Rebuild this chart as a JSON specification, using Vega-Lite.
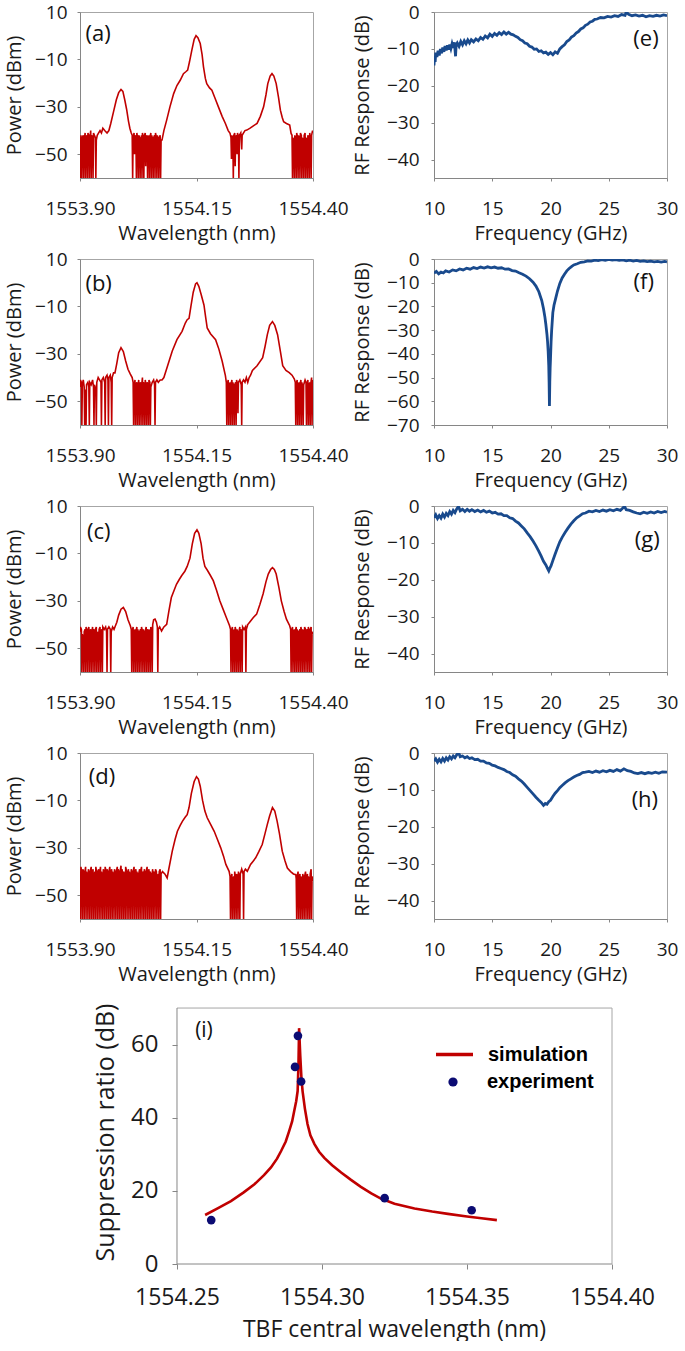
{
"$schema": "https://vega.github.io/schema/vega-lite/v6.json",
"padding": {"left": 3, "top": 2, "right": 0, "bottom": 0},
"background": "white",
"bounds": "flush",
"align": "none",
"columns": 2,
"spacing": {"row": 81, "column": 121},
"config": {
 "font": "Open Sans",
 "view": {"stroke": "#a6a6a6"},
 "axis": {"grid": false, "domainColor": "#868686", "tickColor": "#868686", "tickSize": 3, "labelFont": "Open Sans", "labelFontSize": 19, "labelColor": "#1a1a1a", "titleFont": "Open Sans", "titleFontSize": 20, "titleFontWeight": "normal", "titleColor": "#1a1a1a", "labelOverlap": false},
 "axisX": {"labelPadding": 18, "titlePadding": 5, "labelFlush": false},
 "axisY": {"labelPadding": 10, "titlePadding": 10}
},
"datasets": {
"a": [{"x":1553.900,"y":-43},{"x":1553.901,"y":-60},{"x":1553.902,"y":-42},{"x":1553.903,"y":-45},{"x":1553.904,"y":-60},{"x":1553.905,"y":-43},{"x":1553.907,"y":-42},{"x":1553.908,"y":-60},{"x":1553.909,"y":-44},{"x":1553.911,"y":-41},{"x":1553.912,"y":-60},{"x":1553.913,"y":-43},{"x":1553.915,"y":-42},{"x":1553.916,"y":-60},{"x":1553.917,"y":-41},{"x":1553.919,"y":-42},{"x":1553.920,"y":-60},{"x":1553.921,"y":-44},{"x":1553.923,"y":-40},{"x":1553.924,"y":-60},{"x":1553.925,"y":-42},{"x":1553.927,"y":-43},{"x":1553.928,"y":-60},{"x":1553.929,"y":-41},{"x":1553.931,"y":-42},{"x":1553.933,"y":-43},{"x":1553.934,"y":-60},{"x":1553.935,"y":-44},{"x":1553.937,"y":-42},{"x":1553.940,"y":-41},{"x":1553.943,"y":-40},{"x":1553.946,"y":-41},{"x":1553.949,"y":-39},{"x":1553.953,"y":-40},{"x":1553.958,"y":-41},{"x":1553.962,"y":-40},{"x":1553.966,"y":-37},{"x":1553.972,"y":-32},{"x":1553.978,"y":-27},{"x":1553.983,"y":-24},{"x":1553.988,"y":-22.7},{"x":1553.992,"y":-23.5},{"x":1553.996,"y":-27},{"x":1554.000,"y":-31},{"x":1554.004,"y":-36},{"x":1554.007,"y":-39},{"x":1554.010,"y":-41},
{"x":1554.012,"y":-42},{"x":1554.013,"y":-60},{"x":1554.014,"y":-43},{"x":1554.016,"y":-41},{"x":1554.017,"y":-50},{"x":1554.018,"y":-42},{"x":1554.020,"y":-43},{"x":1554.021,"y":-60},{"x":1554.022,"y":-41},{"x":1554.024,"y":-44},{"x":1554.025,"y":-60},{"x":1554.026,"y":-42},{"x":1554.028,"y":-43},{"x":1554.029,"y":-60},{"x":1554.030,"y":-45},{"x":1554.032,"y":-42},{"x":1554.033,"y":-60},{"x":1554.034,"y":-41},{"x":1554.036,"y":-44},{"x":1554.037,"y":-60},{"x":1554.038,"y":-42},{"x":1554.040,"y":-41},{"x":1554.041,"y":-55},{"x":1554.042,"y":-43},{"x":1554.044,"y":-42},{"x":1554.045,"y":-60},{"x":1554.046,"y":-44},{"x":1554.048,"y":-42},{"x":1554.049,"y":-60},{"x":1554.050,"y":-43},{"x":1554.052,"y":-41},{"x":1554.053,"y":-60},{"x":1554.054,"y":-42},{"x":1554.056,"y":-44},{"x":1554.057,"y":-60},{"x":1554.058,"y":-43},{"x":1554.060,"y":-42},{"x":1554.061,"y":-60},{"x":1554.062,"y":-41},{"x":1554.064,"y":-43},{"x":1554.065,"y":-60},{"x":1554.066,"y":-42},{"x":1554.068,"y":-44},{"x":1554.069,"y":-60},{"x":1554.070,"y":-43},{"x":1554.072,"y":-42},{"x":1554.073,"y":-60},{"x":1554.074,"y":-44},{"x":1554.076,"y":-44},
{"x":1554.080,"y":-40},{"x":1554.086,"y":-35.6},{"x":1554.093,"y":-30},{"x":1554.101,"y":-24.4},{"x":1554.108,"y":-21},{"x":1554.115,"y":-18.8},{"x":1554.122,"y":-16},{"x":1554.127,"y":-15.2},{"x":1554.131,"y":-14.5},{"x":1554.135,"y":-11},{"x":1554.140,"y":-6.1},{"x":1554.145,"y":-1.5},{"x":1554.149,"y":0},{"x":1554.153,"y":-0.8},{"x":1554.158,"y":-3.3},{"x":1554.162,"y":-8},{"x":1554.165,"y":-13.1},{"x":1554.169,"y":-18},{"x":1554.172,"y":-20.2},{"x":1554.178,"y":-22},{"x":1554.183,"y":-23},{"x":1554.190,"y":-26.5},{"x":1554.197,"y":-30},{"x":1554.205,"y":-34},{"x":1554.212,"y":-37},{"x":1554.218,"y":-40},{"x":1554.222,"y":-41.2},
{"x":1554.224,"y":-43},{"x":1554.225,"y":-52},{"x":1554.226,"y":-42},{"x":1554.228,"y":-44},{"x":1554.229,"y":-60},{"x":1554.230,"y":-42},{"x":1554.232,"y":-41},{"x":1554.233,"y":-55},{"x":1554.234,"y":-43},{"x":1554.236,"y":-42},{"x":1554.237,"y":-50},{"x":1554.238,"y":-41},{"x":1554.240,"y":-43},{"x":1554.241,"y":-60},{"x":1554.242,"y":-42},{"x":1554.245,"y":-41},{"x":1554.247,"y":-48},{"x":1554.248,"y":-42},{"x":1554.251,"y":-41},{"x":1554.254,"y":-40},{"x":1554.258,"y":-39.8},
{"x":1554.265,"y":-39},{"x":1554.272,"y":-38},{"x":1554.280,"y":-37},{"x":1554.287,"y":-34},{"x":1554.294,"y":-30},{"x":1554.299,"y":-25},{"x":1554.303,"y":-20.2},{"x":1554.308,"y":-17},{"x":1554.312,"y":-16},{"x":1554.316,"y":-17},{"x":1554.321,"y":-20.2},{"x":1554.326,"y":-26},{"x":1554.330,"y":-31.4},{"x":1554.334,"y":-34.5},{"x":1554.337,"y":-36.3},{"x":1554.343,"y":-37},{"x":1554.350,"y":-37.7},{"x":1554.353,"y":-41.2},
{"x":1554.355,"y":-42},{"x":1554.356,"y":-60},{"x":1554.357,"y":-43},{"x":1554.359,"y":-45},{"x":1554.360,"y":-60},{"x":1554.361,"y":-42},{"x":1554.363,"y":-44},{"x":1554.364,"y":-60},{"x":1554.365,"y":-41},{"x":1554.367,"y":-43},{"x":1554.368,"y":-60},{"x":1554.369,"y":-42},{"x":1554.371,"y":-44},{"x":1554.372,"y":-60},{"x":1554.373,"y":-41},{"x":1554.375,"y":-42},{"x":1554.376,"y":-60},{"x":1554.377,"y":-43},{"x":1554.379,"y":-44},{"x":1554.380,"y":-60},{"x":1554.381,"y":-42},{"x":1554.383,"y":-41},{"x":1554.384,"y":-60},{"x":1554.385,"y":-43},{"x":1554.387,"y":-44},{"x":1554.388,"y":-60},{"x":1554.389,"y":-42},{"x":1554.391,"y":-43},{"x":1554.392,"y":-60},{"x":1554.393,"y":-41},{"x":1554.395,"y":-44},{"x":1554.396,"y":-60},{"x":1554.397,"y":-42},{"x":1554.399,"y":-40},{"x":1554.400,"y":-41}],
"b": [{"x":1553.900,"y":-44},{"x":1553.901,"y":-41},{"x":1553.903,"y":-42},{"x":1553.904,"y":-60},{"x":1553.905,"y":-43},{"x":1553.907,"y":-41},{"x":1553.909,"y":-44},{"x":1553.910,"y":-60},{"x":1553.911,"y":-45},{"x":1553.913,"y":-60},{"x":1553.914,"y":-43},{"x":1553.917,"y":-42},{"x":1553.919,"y":-44},{"x":1553.920,"y":-60},{"x":1553.921,"y":-42},{"x":1553.924,"y":-43},{"x":1553.927,"y":-41},{"x":1553.929,"y":-44},{"x":1553.930,"y":-60},{"x":1553.931,"y":-43},{"x":1553.934,"y":-45},{"x":1553.935,"y":-60},{"x":1553.936,"y":-42},{"x":1553.939,"y":-40},{"x":1553.942,"y":-41},{"x":1553.945,"y":-42},{"x":1553.946,"y":-60},{"x":1553.947,"y":-41},{"x":1553.950,"y":-40},{"x":1553.953,"y":-42},{"x":1553.954,"y":-60},{"x":1553.955,"y":-40},{"x":1553.958,"y":-39},{"x":1553.960,"y":-41},{"x":1553.961,"y":-60},{"x":1553.962,"y":-40},{"x":1553.965,"y":-39},{"x":1553.967,"y":-42},{"x":1553.968,"y":-60},{"x":1553.969,"y":-40},{"x":1553.972,"y":-38},{"x":1553.975,"y":-38},
{"x":1553.979,"y":-34},{"x":1553.983,"y":-29.5},{"x":1553.988,"y":-27.4},{"x":1553.993,"y":-29},{"x":1553.998,"y":-33},{"x":1554.003,"y":-36.5},{"x":1554.008,"y":-38.5},{"x":1554.012,"y":-40},
{"x":1554.014,"y":-42},{"x":1554.015,"y":-60},{"x":1554.016,"y":-44},{"x":1554.018,"y":-41},{"x":1554.019,"y":-60},{"x":1554.020,"y":-43},{"x":1554.022,"y":-42},{"x":1554.023,"y":-60},{"x":1554.024,"y":-45},{"x":1554.026,"y":-41},{"x":1554.027,"y":-60},{"x":1554.028,"y":-43},{"x":1554.030,"y":-42},{"x":1554.031,"y":-60},{"x":1554.032,"y":-44},{"x":1554.034,"y":-40},{"x":1554.035,"y":-60},{"x":1554.036,"y":-42},{"x":1554.038,"y":-43},{"x":1554.039,"y":-60},{"x":1554.040,"y":-41},{"x":1554.042,"y":-44},{"x":1554.043,"y":-60},{"x":1554.044,"y":-42},{"x":1554.046,"y":-43},{"x":1554.047,"y":-60},{"x":1554.048,"y":-41},{"x":1554.050,"y":-42},{"x":1554.051,"y":-60},{"x":1554.052,"y":-44},{"x":1554.055,"y":-42},{"x":1554.058,"y":-41},{"x":1554.060,"y":-43},{"x":1554.061,"y":-60},{"x":1554.062,"y":-42},{"x":1554.065,"y":-41},{"x":1554.068,"y":-42},{"x":1554.072,"y":-41},{"x":1554.076,"y":-41},
{"x":1554.080,"y":-40},{"x":1554.088,"y":-35},{"x":1554.098,"y":-28.8},{"x":1554.108,"y":-24},{"x":1554.119,"y":-20.5},{"x":1554.126,"y":-17},{"x":1554.130,"y":-15.6},{"x":1554.134,"y":-15},{"x":1554.138,"y":-10},{"x":1554.143,"y":-4},{"x":1554.148,"y":-0.5},{"x":1554.151,"y":0},{"x":1554.155,"y":-1.5},{"x":1554.160,"y":-5},{"x":1554.166,"y":-9.4},{"x":1554.170,"y":-15},{"x":1554.173,"y":-19.1},{"x":1554.180,"y":-21.5},{"x":1554.191,"y":-24},{"x":1554.198,"y":-28},{"x":1554.205,"y":-33},{"x":1554.212,"y":-39.2},
{"x":1554.214,"y":-42},{"x":1554.215,"y":-60},{"x":1554.216,"y":-43},{"x":1554.218,"y":-41},{"x":1554.219,"y":-60},{"x":1554.220,"y":-44},{"x":1554.222,"y":-42},{"x":1554.223,"y":-60},{"x":1554.224,"y":-43},{"x":1554.226,"y":-41},{"x":1554.227,"y":-60},{"x":1554.228,"y":-42},{"x":1554.230,"y":-44},{"x":1554.231,"y":-60},{"x":1554.232,"y":-43},{"x":1554.234,"y":-42},{"x":1554.235,"y":-60},{"x":1554.236,"y":-41},{"x":1554.238,"y":-43},{"x":1554.239,"y":-55},{"x":1554.240,"y":-42},{"x":1554.243,"y":-41},{"x":1554.246,"y":-43},{"x":1554.247,"y":-60},{"x":1554.248,"y":-42},{"x":1554.251,"y":-41},{"x":1554.254,"y":-42},{"x":1554.257,"y":-40},{"x":1554.260,"y":-42},{"x":1554.263,"y":-40},{"x":1554.266,"y":-39},{"x":1554.270,"y":-37},
{"x":1554.280,"y":-35},{"x":1554.292,"y":-31.6},{"x":1554.297,"y":-27},{"x":1554.302,"y":-21.9},{"x":1554.307,"y":-18},{"x":1554.313,"y":-16.4},{"x":1554.318,"y":-18},{"x":1554.324,"y":-21.9},{"x":1554.330,"y":-29},{"x":1554.335,"y":-35},{"x":1554.342,"y":-37},{"x":1554.349,"y":-37.9},{"x":1554.355,"y":-39},{"x":1554.360,"y":-40.6},
{"x":1554.362,"y":-42},{"x":1554.363,"y":-60},{"x":1554.364,"y":-43},{"x":1554.366,"y":-41},{"x":1554.367,"y":-60},{"x":1554.368,"y":-44},{"x":1554.370,"y":-42},{"x":1554.371,"y":-60},{"x":1554.372,"y":-43},{"x":1554.374,"y":-41},{"x":1554.375,"y":-60},{"x":1554.376,"y":-42},{"x":1554.378,"y":-44},{"x":1554.379,"y":-60},{"x":1554.380,"y":-43},{"x":1554.383,"y":-41},{"x":1554.385,"y":-42},{"x":1554.386,"y":-60},{"x":1554.387,"y":-43},{"x":1554.389,"y":-41},{"x":1554.390,"y":-60},{"x":1554.391,"y":-44},{"x":1554.393,"y":-42},{"x":1554.394,"y":-60},{"x":1554.395,"y":-43},{"x":1554.397,"y":-40},{"x":1554.398,"y":-60},{"x":1554.399,"y":-42},{"x":1554.400,"y":-41}],
"c": [{"x":1553.900,"y":-43},{"x":1553.901,"y":-41},{"x":1553.903,"y":-42},{"x":1553.904,"y":-60},{"x":1553.905,"y":-44},{"x":1553.907,"y":-46},{"x":1553.908,"y":-60},{"x":1553.909,"y":-43},{"x":1553.911,"y":-42},{"x":1553.912,"y":-60},{"x":1553.913,"y":-41},{"x":1553.915,"y":-44},{"x":1553.916,"y":-60},{"x":1553.917,"y":-42},{"x":1553.919,"y":-41},{"x":1553.920,"y":-60},{"x":1553.921,"y":-43},{"x":1553.923,"y":-42},{"x":1553.924,"y":-60},{"x":1553.925,"y":-44},{"x":1553.927,"y":-41},{"x":1553.928,"y":-60},{"x":1553.929,"y":-42},{"x":1553.931,"y":-43},{"x":1553.932,"y":-60},{"x":1553.933,"y":-42},{"x":1553.935,"y":-41},{"x":1553.936,"y":-60},{"x":1553.937,"y":-44},{"x":1553.939,"y":-43},{"x":1553.940,"y":-60},{"x":1553.941,"y":-42},{"x":1553.943,"y":-41},{"x":1553.944,"y":-60},{"x":1553.945,"y":-43},{"x":1553.947,"y":-42},{"x":1553.948,"y":-60},{"x":1553.949,"y":-41},{"x":1553.952,"y":-42},{"x":1553.955,"y":-41},{"x":1553.957,"y":-43},{"x":1553.958,"y":-60},{"x":1553.959,"y":-42},{"x":1553.962,"y":-41},{"x":1553.965,"y":-42},{"x":1553.966,"y":-60},{"x":1553.967,"y":-43},{"x":1553.970,"y":-41},{"x":1553.973,"y":-42},{"x":1553.975,"y":-41},
{"x":1553.979,"y":-39},{"x":1553.983,"y":-36},{"x":1553.988,"y":-33.5},{"x":1553.993,"y":-32.8},{"x":1553.998,"y":-34.5},{"x":1554.003,"y":-38},{"x":1554.008,"y":-40.5},
{"x":1554.010,"y":-42},{"x":1554.011,"y":-60},{"x":1554.012,"y":-43},{"x":1554.014,"y":-41},{"x":1554.015,"y":-60},{"x":1554.016,"y":-44},{"x":1554.018,"y":-42},{"x":1554.019,"y":-60},{"x":1554.020,"y":-43},{"x":1554.022,"y":-41},{"x":1554.023,"y":-60},{"x":1554.024,"y":-42},{"x":1554.026,"y":-44},{"x":1554.027,"y":-60},{"x":1554.028,"y":-43},{"x":1554.030,"y":-42},{"x":1554.031,"y":-60},{"x":1554.032,"y":-41},{"x":1554.034,"y":-43},{"x":1554.035,"y":-60},{"x":1554.036,"y":-42},{"x":1554.038,"y":-44},{"x":1554.039,"y":-60},{"x":1554.040,"y":-43},{"x":1554.042,"y":-41},{"x":1554.043,"y":-60},{"x":1554.044,"y":-42},{"x":1554.046,"y":-43},{"x":1554.047,"y":-60},{"x":1554.048,"y":-42},{"x":1554.050,"y":-44},{"x":1554.051,"y":-60},{"x":1554.052,"y":-41},{"x":1554.054,"y":-42},{"x":1554.055,"y":-60},{"x":1554.056,"y":-40},{"x":1554.058,"y":-38},{"x":1554.061,"y":-37.7},{"x":1554.064,"y":-39},{"x":1554.066,"y":-41},{"x":1554.067,"y":-60},{"x":1554.068,"y":-42},{"x":1554.071,"y":-41},{"x":1554.075,"y":-42.7},
{"x":1554.080,"y":-41},{"x":1554.086,"y":-39.9},{"x":1554.091,"y":-34},{"x":1554.096,"y":-28.6},{"x":1554.102,"y":-25.5},{"x":1554.107,"y":-23},{"x":1554.113,"y":-21},{"x":1554.118,"y":-19.4},{"x":1554.125,"y":-17.5},{"x":1554.130,"y":-15.5},{"x":1554.136,"y":-12},{"x":1554.141,"y":-6},{"x":1554.146,"y":-1.5},{"x":1554.151,"y":0},{"x":1554.155,"y":-1.5},{"x":1554.160,"y":-6},{"x":1554.164,"y":-12},{"x":1554.168,"y":-15.5},{"x":1554.173,"y":-17},{"x":1554.179,"y":-19},{"x":1554.186,"y":-21.5},{"x":1554.193,"y":-25.5},{"x":1554.200,"y":-30},{"x":1554.207,"y":-33.5},{"x":1554.214,"y":-37},{"x":1554.221,"y":-40.5},
{"x":1554.223,"y":-42},{"x":1554.224,"y":-60},{"x":1554.225,"y":-43},{"x":1554.227,"y":-41},{"x":1554.228,"y":-60},{"x":1554.229,"y":-44},{"x":1554.231,"y":-42},{"x":1554.232,"y":-60},{"x":1554.233,"y":-41},{"x":1554.235,"y":-43},{"x":1554.236,"y":-60},{"x":1554.237,"y":-42},{"x":1554.239,"y":-44},{"x":1554.240,"y":-60},{"x":1554.241,"y":-43},{"x":1554.243,"y":-41},{"x":1554.244,"y":-60},{"x":1554.245,"y":-42},{"x":1554.247,"y":-43},{"x":1554.248,"y":-60},{"x":1554.249,"y":-41},{"x":1554.252,"y":-42},{"x":1554.255,"y":-41},{"x":1554.256,"y":-60},{"x":1554.257,"y":-42},{"x":1554.260,"y":-40},{"x":1554.264,"y":-39},
{"x":1554.272,"y":-37},{"x":1554.279,"y":-35.6},{"x":1554.286,"y":-31.5},{"x":1554.293,"y":-27},{"x":1554.299,"y":-22},{"x":1554.304,"y":-18.7},{"x":1554.309,"y":-16.8},{"x":1554.313,"y":-16},{"x":1554.317,"y":-16.8},{"x":1554.321,"y":-18.7},{"x":1554.327,"y":-24.5},{"x":1554.332,"y":-30},{"x":1554.338,"y":-34.5},{"x":1554.343,"y":-37.7},{"x":1554.350,"y":-40.5},
{"x":1554.352,"y":-42},{"x":1554.353,"y":-60},{"x":1554.354,"y":-43},{"x":1554.356,"y":-41},{"x":1554.357,"y":-60},{"x":1554.358,"y":-44},{"x":1554.360,"y":-42},{"x":1554.361,"y":-60},{"x":1554.362,"y":-43},{"x":1554.364,"y":-41},{"x":1554.365,"y":-60},{"x":1554.366,"y":-42},{"x":1554.368,"y":-44},{"x":1554.369,"y":-60},{"x":1554.370,"y":-43},{"x":1554.372,"y":-42},{"x":1554.373,"y":-60},{"x":1554.374,"y":-41},{"x":1554.376,"y":-43},{"x":1554.377,"y":-60},{"x":1554.378,"y":-42},{"x":1554.380,"y":-44},{"x":1554.381,"y":-60},{"x":1554.382,"y":-41},{"x":1554.384,"y":-42},{"x":1554.385,"y":-60},{"x":1554.386,"y":-43},{"x":1554.388,"y":-42},{"x":1554.389,"y":-60},{"x":1554.390,"y":-41},{"x":1554.392,"y":-44},{"x":1554.393,"y":-60},{"x":1554.394,"y":-42},{"x":1554.396,"y":-41},{"x":1554.397,"y":-60},{"x":1554.398,"y":-43},{"x":1554.400,"y":-44}],
"d": [{"x":1553.900,"y":-40},{"x":1553.901,"y":-60},{"x":1553.902,"y":-38},{"x":1553.904,"y":-41},{"x":1553.905,"y":-60},{"x":1553.906,"y":-39},{"x":1553.908,"y":-40},{"x":1553.909,"y":-60},{"x":1553.910,"y":-41},{"x":1553.912,"y":-38},{"x":1553.913,"y":-60},{"x":1553.914,"y":-40},{"x":1553.916,"y":-42},{"x":1553.917,"y":-60},{"x":1553.918,"y":-39},{"x":1553.920,"y":-41},{"x":1553.921,"y":-60},{"x":1553.922,"y":-40},{"x":1553.924,"y":-38},{"x":1553.925,"y":-60},{"x":1553.926,"y":-41},{"x":1553.928,"y":-39},{"x":1553.929,"y":-60},{"x":1553.930,"y":-42},{"x":1553.932,"y":-40},{"x":1553.933,"y":-60},{"x":1553.934,"y":-38},{"x":1553.936,"y":-41},{"x":1553.937,"y":-60},{"x":1553.938,"y":-40},{"x":1553.940,"y":-39},{"x":1553.941,"y":-60},{"x":1553.942,"y":-41},{"x":1553.944,"y":-38},{"x":1553.945,"y":-60},{"x":1553.946,"y":-40},{"x":1553.948,"y":-42},{"x":1553.949,"y":-60},{"x":1553.950,"y":-39},{"x":1553.952,"y":-41},{"x":1553.953,"y":-60},{"x":1553.954,"y":-38},{"x":1553.956,"y":-40},{"x":1553.957,"y":-60},{"x":1553.958,"y":-39},{"x":1553.960,"y":-41},{"x":1553.961,"y":-60},{"x":1553.962,"y":-40},{"x":1553.964,"y":-38},{"x":1553.965,"y":-60},{"x":1553.966,"y":-41},{"x":1553.968,"y":-39},{"x":1553.969,"y":-60},{"x":1553.970,"y":-40},{"x":1553.972,"y":-42},{"x":1553.973,"y":-60},{"x":1553.974,"y":-39},{"x":1553.976,"y":-41},{"x":1553.977,"y":-60},{"x":1553.978,"y":-40},{"x":1553.980,"y":-38},{"x":1553.981,"y":-60},{"x":1553.982,"y":-39},{"x":1553.984,"y":-41},{"x":1553.985,"y":-60},{"x":1553.986,"y":-40},{"x":1553.988,"y":-37.5},{"x":1553.989,"y":-60},{"x":1553.990,"y":-39},{"x":1553.992,"y":-41},{"x":1553.993,"y":-60},{"x":1553.994,"y":-40},{"x":1553.996,"y":-42},{"x":1553.997,"y":-60},{"x":1553.998,"y":-38},{"x":1554.000,"y":-40},{"x":1554.001,"y":-60},{"x":1554.002,"y":-41},{"x":1554.004,"y":-39},{"x":1554.005,"y":-60},{"x":1554.006,"y":-40},{"x":1554.008,"y":-42},{"x":1554.009,"y":-60},{"x":1554.010,"y":-39},{"x":1554.012,"y":-41},{"x":1554.013,"y":-60},{"x":1554.014,"y":-40},{"x":1554.016,"y":-38},{"x":1554.017,"y":-60},{"x":1554.018,"y":-41},{"x":1554.020,"y":-39},{"x":1554.021,"y":-60},{"x":1554.022,"y":-40},{"x":1554.024,"y":-42},{"x":1554.025,"y":-60},{"x":1554.026,"y":-41},{"x":1554.028,"y":-39},{"x":1554.029,"y":-60},{"x":1554.030,"y":-40},{"x":1554.032,"y":-38},{"x":1554.033,"y":-60},{"x":1554.034,"y":-41},{"x":1554.036,"y":-40},{"x":1554.037,"y":-60},{"x":1554.038,"y":-39},{"x":1554.040,"y":-42},{"x":1554.041,"y":-60},{"x":1554.042,"y":-40},{"x":1554.044,"y":-38},{"x":1554.045,"y":-60},{"x":1554.046,"y":-41},{"x":1554.048,"y":-39},{"x":1554.049,"y":-60},{"x":1554.050,"y":-40},{"x":1554.052,"y":-41},{"x":1554.053,"y":-60},{"x":1554.054,"y":-42},{"x":1554.056,"y":-39},{"x":1554.057,"y":-60},{"x":1554.058,"y":-40},{"x":1554.060,"y":-41},{"x":1554.061,"y":-60},{"x":1554.062,"y":-39},{"x":1554.064,"y":-40},{"x":1554.065,"y":-60},{"x":1554.066,"y":-42},{"x":1554.068,"y":-41},{"x":1554.069,"y":-60},{"x":1554.070,"y":-40},{"x":1554.072,"y":-39},{"x":1554.073,"y":-60},{"x":1554.074,"y":-41},{"x":1554.077,"y":-40},
{"x":1554.082,"y":-41},{"x":1554.087,"y":-42.7},{"x":1554.091,"y":-38.5},{"x":1554.098,"y":-31.4},{"x":1554.104,"y":-26.5},{"x":1554.109,"y":-23},{"x":1554.115,"y":-20.5},{"x":1554.120,"y":-18.7},{"x":1554.126,"y":-17},{"x":1554.130,"y":-16},{"x":1554.134,"y":-13},{"x":1554.139,"y":-7},{"x":1554.145,"y":-2},{"x":1554.150,"y":0},{"x":1554.154,"y":-1},{"x":1554.158,"y":-4},{"x":1554.163,"y":-10},{"x":1554.168,"y":-14.5},{"x":1554.173,"y":-17.3},{"x":1554.180,"y":-20},{"x":1554.188,"y":-23},{"x":1554.195,"y":-26.5},{"x":1554.202,"y":-30},{"x":1554.208,"y":-33.5},{"x":1554.213,"y":-37},{"x":1554.220,"y":-39.9},
{"x":1554.222,"y":-42},{"x":1554.223,"y":-60},{"x":1554.224,"y":-43},{"x":1554.226,"y":-41},{"x":1554.227,"y":-60},{"x":1554.228,"y":-44},{"x":1554.230,"y":-42},{"x":1554.231,"y":-60},{"x":1554.232,"y":-40},{"x":1554.234,"y":-43},{"x":1554.235,"y":-60},{"x":1554.236,"y":-41},{"x":1554.238,"y":-42},{"x":1554.239,"y":-60},{"x":1554.240,"y":-40},{"x":1554.242,"y":-43},{"x":1554.243,"y":-60},{"x":1554.244,"y":-41},{"x":1554.247,"y":-39},{"x":1554.250,"y":-41},{"x":1554.251,"y":-60},{"x":1554.252,"y":-40},{"x":1554.255,"y":-39},{"x":1554.259,"y":-39.9},
{"x":1554.266,"y":-37},{"x":1554.272,"y":-35.5},{"x":1554.277,"y":-34.2},{"x":1554.284,"y":-31.5},{"x":1554.291,"y":-28.6},{"x":1554.297,"y":-24},{"x":1554.302,"y":-20.1},{"x":1554.307,"y":-16.5},{"x":1554.313,"y":-13},{"x":1554.318,"y":-14.5},{"x":1554.323,"y":-18.7},{"x":1554.328,"y":-24},{"x":1554.334,"y":-31.4},{"x":1554.340,"y":-35.5},{"x":1554.345,"y":-38.5},{"x":1554.352,"y":-40},{"x":1554.358,"y":-41},{"x":1554.363,"y":-41.3},
{"x":1554.364,"y":-43},{"x":1554.365,"y":-60},{"x":1554.366,"y":-42},{"x":1554.368,"y":-40},{"x":1554.369,"y":-60},{"x":1554.370,"y":-43},{"x":1554.372,"y":-41},{"x":1554.373,"y":-60},{"x":1554.374,"y":-42},{"x":1554.376,"y":-44},{"x":1554.377,"y":-60},{"x":1554.378,"y":-41},{"x":1554.380,"y":-43},{"x":1554.381,"y":-60},{"x":1554.382,"y":-42},{"x":1554.384,"y":-40},{"x":1554.385,"y":-60},{"x":1554.386,"y":-43},{"x":1554.388,"y":-41},{"x":1554.389,"y":-60},{"x":1554.390,"y":-42},{"x":1554.392,"y":-44},{"x":1554.393,"y":-60},{"x":1554.394,"y":-41},{"x":1554.396,"y":-39},{"x":1554.397,"y":-60},{"x":1554.398,"y":-42},{"x":1554.400,"y":-44}],
"e": [{"x":10.00,"y":-14.5},{"x":10.05,"y":-12.0},{"x":10.10,"y":-13.5},{"x":10.15,"y":-11.0},{"x":10.25,"y":-12.2},{"x":10.35,"y":-10.5},{"x":10.45,"y":-11.8},{"x":10.55,"y":-10.0},{"x":10.65,"y":-11.2},{"x":10.75,"y":-9.6},{"x":10.85,"y":-10.8},{"x":10.95,"y":-9.2},{"x":11.05,"y":-10.4},{"x":11.15,"y":-9.0},{"x":11.25,"y":-10.2},{"x":11.35,"y":-8.8},{"x":11.45,"y":-9.9},{"x":11.55,"y":-8.6},{"x":11.65,"y":-9.7},{"x":11.75,"y":-8.2},{"x":11.85,"y":-12.0},{"x":11.90,"y":-9.0},{"x":12.00,"y":-8.4},{"x":12.15,"y":-9.3},{"x":12.30,"y":-8.0},{"x":12.45,"y":-8.9},{"x":12.60,"y":-7.8},{"x":12.75,"y":-8.6},{"x":12.90,"y":-7.6},{"x":13.05,"y":-8.4},{"x":13.20,"y":-7.5},{"x":13.40,"y":-8.1},{"x":13.60,"y":-7.3},{"x":13.80,"y":-7.8},{"x":14.00,"y":-6.9},{"x":14.20,"y":-7.4},{"x":14.40,"y":-6.5},{"x":14.60,"y":-7.0},{"x":14.80,"y":-6.0},{"x":15.00,"y":-6.6},{"x":15.20,"y":-5.8},{"x":15.40,"y":-6.3},{"x":15.60,"y":-5.6},{"x":15.80,"y":-6.1},{"x":16.00,"y":-5.4},{"x":16.20,"y":-6.0},{"x":16.40,"y":-5.5},{"x":16.60,"y":-6.0},{"x":16.80,"y":-6.2},{"x":17.00,"y":-6.6},{"x":17.20,"y":-6.9},{"x":17.40,"y":-7.5},{"x":17.60,"y":-7.8},{"x":17.80,"y":-8.4},{"x":18.00,"y":-8.6},{"x":18.20,"y":-9.3},{"x":18.40,"y":-9.5},{"x":18.60,"y":-10.1},{"x":18.80,"y":-10.0},{"x":19.00,"y":-10.7},{"x":19.20,"y":-10.5},{"x":19.40,"y":-11.1},{"x":19.60,"y":-10.9},{"x":19.80,"y":-11.5},{"x":20.00,"y":-11.0},{"x":20.20,"y":-11.6},{"x":20.40,"y":-10.8},{"x":20.60,"y":-11.2},{"x":20.80,"y":-10.0},{"x":21.00,"y":-9.4},{"x":21.20,"y":-8.9},{"x":21.40,"y":-8.0},{"x":21.60,"y":-7.6},{"x":21.80,"y":-6.8},{"x":22.00,"y":-6.4},{"x":22.20,"y":-5.7},{"x":22.40,"y":-5.3},{"x":22.60,"y":-4.6},{"x":22.80,"y":-4.3},{"x":23.00,"y":-3.6},{"x":23.20,"y":-3.3},{"x":23.40,"y":-2.7},{"x":23.60,"y":-2.5},{"x":23.80,"y":-2.0},{"x":24.00,"y":-1.9},{"x":24.30,"y":-1.5},{"x":24.60,"y":-1.6},{"x":24.90,"y":-1.2},{"x":25.20,"y":-1.4},{"x":25.50,"y":-1.0},{"x":25.80,"y":-1.2},{"x":26.10,"y":-0.7},{"x":26.40,"y":-0.9},{"x":26.50,"y":0.0},{"x":26.70,"y":-0.6},{"x":27.00,"y":-1.0},{"x":27.30,"y":-0.8},{"x":27.60,"y":-1.1},{"x":27.90,"y":-0.9},{"x":28.20,"y":-1.3},{"x":28.50,"y":-1.0},{"x":28.80,"y":-1.2},{"x":29.10,"y":-0.9},{"x":29.40,"y":-1.1},{"x":29.70,"y":-0.8},{"x":30.00,"y":-1.0}],
"f": [{"x":10.00,"y":-6.0},{"x":10.20,"y":-5.2},{"x":10.40,"y":-6.3},{"x":10.60,"y":-5.5},{"x":10.80,"y":-5.9},{"x":11.00,"y":-5.0},{"x":11.30,"y":-5.5},{"x":11.60,"y":-4.6},{"x":11.90,"y":-5.0},{"x":12.20,"y":-4.2},{"x":12.50,"y":-4.6},{"x":12.80,"y":-3.9},{"x":13.10,"y":-4.3},{"x":13.40,"y":-3.6},{"x":13.70,"y":-4.0},{"x":14.00,"y":-3.4},{"x":14.30,"y":-3.8},{"x":14.60,"y":-3.3},{"x":14.90,"y":-3.7},{"x":15.20,"y":-3.4},{"x":15.50,"y":-3.9},{"x":15.80,"y":-3.7},{"x":16.10,"y":-4.3},{"x":16.40,"y":-4.2},{"x":16.70,"y":-4.9},{"x":17.00,"y":-5.1},{"x":17.30,"y":-5.8},{"x":17.60,"y":-6.4},{"x":17.90,"y":-7.2},{"x":18.20,"y":-8.3},{"x":18.50,"y":-9.8},{"x":18.75,"y":-11.4},{"x":19.00,"y":-13.8},{"x":19.25,"y":-17.5},{"x":19.40,"y":-21},{"x":19.52,"y":-24.5},{"x":19.60,"y":-27.5},{"x":19.70,"y":-32},{"x":19.75,"y":-35},{"x":19.80,"y":-39},{"x":19.85,"y":-45},{"x":19.88,"y":-52},{"x":19.91,"y":-62},{"x":19.94,"y":-52},{"x":19.97,"y":-46},{"x":20.00,"y":-42},{"x":20.05,"y":-35},{"x":20.10,"y":-30},{"x":20.20,"y":-22.6},{"x":20.30,"y":-19.5},{"x":20.45,"y":-16.5},{"x":20.60,"y":-13.5},{"x":20.80,"y":-10.3},{"x":21.00,"y":-8.0},{"x":21.20,"y":-6.4},{"x":21.40,"y":-5.0},{"x":21.60,"y":-4.0},{"x":21.80,"y":-3.2},{"x":22.00,"y":-2.5},{"x":22.30,"y":-2.0},{"x":22.60,"y":-1.4},{"x":22.90,"y":-1.2},{"x":23.20,"y":-0.8},{"x":23.50,"y":-0.9},{"x":23.80,"y":-0.5},{"x":24.10,"y":-0.7},{"x":24.40,"y":-0.3},{"x":24.70,"y":-0.6},{"x":25.00,"y":-0.2},{"x":25.30,"y":-0.5},{"x":25.60,"y":-0.3},{"x":25.90,"y":-0.6},{"x":26.20,"y":-0.4},{"x":26.50,"y":-0.8},{"x":26.80,"y":-0.5},{"x":27.10,"y":-0.9},{"x":27.40,"y":-0.6},{"x":27.70,"y":-1.0},{"x":28.00,"y":-0.8},{"x":28.30,"y":-1.1},{"x":28.60,"y":-0.9},{"x":28.90,"y":-1.2},{"x":29.20,"y":-1.0},{"x":29.50,"y":-1.3},{"x":29.80,"y":-1.0},{"x":30.00,"y":-1.2}],
"g": [{"x":10.00,"y":-3.2},{"x":10.15,"y":-2.4},{"x":10.30,"y":-3.4},{"x":10.45,"y":-2.6},{"x":10.60,"y":-3.3},{"x":10.75,"y":-2.2},{"x":10.90,"y":-3.0},{"x":11.05,"y":-2.0},{"x":11.20,"y":-2.6},{"x":11.35,"y":-1.5},{"x":11.50,"y":-2.2},{"x":11.65,"y":-1.2},{"x":11.80,"y":-1.8},{"x":11.95,"y":-0.8},{"x":12.10,"y":-0.1},{"x":12.25,"y":-1.3},{"x":12.45,"y":-0.9},{"x":12.65,"y":-1.5},{"x":12.85,"y":-0.9},{"x":13.05,"y":-1.4},{"x":13.25,"y":-1.0},{"x":13.50,"y":-1.5},{"x":13.75,"y":-1.1},{"x":14.00,"y":-1.6},{"x":14.25,"y":-1.2},{"x":14.50,"y":-1.7},{"x":14.75,"y":-1.4},{"x":15.00,"y":-1.9},{"x":15.25,"y":-1.7},{"x":15.50,"y":-2.2},{"x":15.75,"y":-2.1},{"x":16.00,"y":-2.6},{"x":16.25,"y":-2.6},{"x":16.50,"y":-3.2},{"x":16.75,"y":-3.4},{"x":17.00,"y":-4.1},{"x":17.25,"y":-4.6},{"x":17.50,"y":-5.4},{"x":17.75,"y":-6.2},{"x":18.00,"y":-7.3},{"x":18.25,"y":-8.3},{"x":18.50,"y":-9.5},{"x":18.75,"y":-10.8},{"x":19.00,"y":-12.3},{"x":19.20,"y":-13.6},{"x":19.40,"y":-15.0},{"x":19.60,"y":-16.0},{"x":19.75,"y":-17.0},{"x":19.85,"y":-17.6},{"x":19.95,"y":-16.8},{"x":20.05,"y":-16.2},{"x":20.20,"y":-14.8},{"x":20.40,"y":-13.0},{"x":20.60,"y":-11.3},{"x":20.80,"y":-9.7},{"x":21.00,"y":-8.5},{"x":21.25,"y":-7.2},{"x":21.50,"y":-6.0},{"x":21.75,"y":-4.9},{"x":22.00,"y":-4.0},{"x":22.25,"y":-3.2},{"x":22.50,"y":-2.7},{"x":22.75,"y":-2.1},{"x":23.00,"y":-1.9},{"x":23.30,"y":-1.4},{"x":23.60,"y":-1.6},{"x":23.90,"y":-1.2},{"x":24.20,"y":-1.5},{"x":24.50,"y":-1.1},{"x":24.80,"y":-1.4},{"x":25.10,"y":-1.0},{"x":25.40,"y":-1.3},{"x":25.70,"y":-0.9},{"x":26.00,"y":-1.2},{"x":26.35,"y":-0.1},{"x":26.50,"y":-1.0},{"x":26.80,"y":-1.2},{"x":27.10,"y":-1.6},{"x":27.40,"y":-1.9},{"x":27.70,"y":-2.1},{"x":28.00,"y":-1.7},{"x":28.30,"y":-2.0},{"x":28.60,"y":-1.6},{"x":28.90,"y":-1.9},{"x":29.20,"y":-1.5},{"x":29.50,"y":-1.8},{"x":29.80,"y":-1.5},{"x":30.00,"y":-1.7}],
"h": [{"x":10.00,"y":-2.2},{"x":10.15,"y":-1.6},{"x":10.30,"y":-2.5},{"x":10.45,"y":-1.7},{"x":10.60,"y":-2.4},{"x":10.75,"y":-1.5},{"x":10.90,"y":-2.2},{"x":11.05,"y":-1.3},{"x":11.20,"y":-1.9},{"x":11.35,"y":-1.0},{"x":11.50,"y":-1.6},{"x":11.65,"y":-0.8},{"x":11.80,"y":-1.3},{"x":11.95,"y":-0.5},{"x":12.10,"y":0.2},{"x":12.25,"y":-1.0},{"x":12.45,"y":-0.8},{"x":12.65,"y":-1.3},{"x":12.85,"y":-1.0},{"x":13.05,"y":-1.5},{"x":13.25,"y":-1.3},{"x":13.50,"y":-1.8},{"x":13.75,"y":-1.7},{"x":14.00,"y":-2.2},{"x":14.25,"y":-2.2},{"x":14.50,"y":-2.7},{"x":14.75,"y":-2.8},{"x":15.00,"y":-3.3},{"x":15.25,"y":-3.5},{"x":15.50,"y":-3.9},{"x":15.75,"y":-4.2},{"x":16.00,"y":-4.5},{"x":16.25,"y":-5.0},{"x":16.50,"y":-5.3},{"x":16.75,"y":-5.9},{"x":17.00,"y":-6.3},{"x":17.25,"y":-7.0},{"x":17.50,"y":-7.6},{"x":17.75,"y":-8.4},{"x":18.00,"y":-9.3},{"x":18.25,"y":-10.2},{"x":18.50,"y":-11.1},{"x":18.75,"y":-12.0},{"x":19.00,"y":-12.8},{"x":19.20,"y":-13.4},{"x":19.40,"y":-14.2},{"x":19.55,"y":-13.7},{"x":19.70,"y":-13.9},{"x":19.85,"y":-13.2},{"x":20.00,"y":-12.8},{"x":20.20,"y":-11.8},{"x":20.40,"y":-10.9},{"x":20.60,"y":-10.2},{"x":20.80,"y":-9.4},{"x":21.00,"y":-8.8},{"x":21.25,"y":-8.1},{"x":21.50,"y":-7.5},{"x":21.75,"y":-7.0},{"x":22.00,"y":-6.5},{"x":22.25,"y":-6.1},{"x":22.50,"y":-5.8},{"x":22.75,"y":-5.3},{"x":23.00,"y":-5.2},{"x":23.30,"y":-5.0},{"x":23.60,"y":-5.3},{"x":23.90,"y":-4.9},{"x":24.20,"y":-5.2},{"x":24.50,"y":-4.8},{"x":24.80,"y":-5.1},{"x":25.10,"y":-4.7},{"x":25.40,"y":-5.0},{"x":25.70,"y":-4.5},{"x":26.00,"y":-4.9},{"x":26.30,"y":-4.3},{"x":26.60,"y":-4.8},{"x":26.90,"y":-5.0},{"x":27.20,"y":-5.4},{"x":27.50,"y":-5.6},{"x":27.80,"y":-5.3},{"x":28.10,"y":-5.6},{"x":28.40,"y":-5.3},{"x":28.70,"y":-5.5},{"x":29.00,"y":-5.2},{"x":29.30,"y":-5.5},{"x":29.60,"y":-5.1},{"x":30.00,"y":-5.2}],
"isim": [{"x":1554.2597,"y":13.4},{"x":1554.2640,"y":15.2},{"x":1554.2686,"y":17.2},{"x":1554.2730,"y":19.6},{"x":1554.2767,"y":21.8},{"x":1554.2800,"y":24.3},{"x":1554.2824,"y":26.4},{"x":1554.2845,"y":28.8},{"x":1554.2859,"y":30.9},{"x":1554.2875,"y":33.5},{"x":1554.2887,"y":36.4},{"x":1554.2897,"y":39.0},{"x":1554.2904,"y":41.8},{"x":1554.2911,"y":44.5},{"x":1554.2916,"y":47.3},{"x":1554.2919,"y":55},{"x":1554.2921,"y":64.5},{"x":1554.2925,"y":57},{"x":1554.2929,"y":51},{"x":1554.2933,"y":47.3},{"x":1554.2941,"y":42.5},{"x":1554.2950,"y":38.3},{"x":1554.2960,"y":35.2},{"x":1554.2974,"y":32.8},{"x":1554.2990,"y":30.7},{"x":1554.3008,"y":29.0},{"x":1554.3035,"y":27.0},{"x":1554.3066,"y":25.0},{"x":1554.3100,"y":23.0},{"x":1554.3134,"y":21.1},{"x":1554.3170,"y":19.3},{"x":1554.3203,"y":17.9},{"x":1554.3250,"y":16.5},{"x":1554.3319,"y":15.2},{"x":1554.3380,"y":14.35},{"x":1554.3434,"y":13.7},{"x":1554.3500,"y":13.0},{"x":1554.3550,"y":12.5},{"x":1554.3603,"y":12.0}],
"iexp": [{"x":1554.2618,"y":12.0},{"x":1554.2907,"y":53.9},{"x":1554.2917,"y":62.4},{"x":1554.2928,"y":49.9},{"x":1554.3216,"y":18.0},{"x":1554.3516,"y":14.7}]
},
"concat": [
  {"width": 233, "height": 166, "layer": [
   {"data": {"name": "a"}, "mark": {"type": "line", "color": "#c00000", "strokeWidth": 1.6, "clip": true},
    "encoding": {"x": {"field": "x", "type": "quantitative", "scale": {"domain": [1553.9, 1554.4], "nice": false, "zero": false}, "axis": {"values": [1553.9, 1554.15, 1554.4], "format": ".2f", "title": "Wavelength (nm)"}},
     "y": {"field": "y", "type": "quantitative", "scale": {"domain": [-60, 10], "nice": false, "zero": false}, "axis": {"values": [10, -10, -30, -50], "title": "Power (dBm)"}}}},
   {"data": {"values": [{}]}, "mark": {"type": "text", "font": "Open Sans", "fontSize": 22, "color": "#111"}, "encoding": {"x": {"datum": 1553.939}, "y": {"datum": 0.7}, "text": {"value": "(a)"}}}
  ]},
  {"width": 233, "height": 166, "layer": [
   {"data": {"name": "e"}, "mark": {"type": "line", "color": "#194a8d", "strokeWidth": 2.8, "clip": true},
    "encoding": {"x": {"field": "x", "type": "quantitative", "scale": {"domain": [10, 30], "nice": false, "zero": false}, "axis": {"values": [10, 15, 20, 25, 30], "title": "Frequency (GHz)"}},
     "y": {"field": "y", "type": "quantitative", "scale": {"domain": [-45, 0], "nice": false, "zero": false}, "axis": {"values": [0, -10, -20, -30, -40], "title": "RF Response (dB)", "labelPadding": 12, "titlePadding": 14}}}},
   {"data": {"values": [{}]}, "mark": {"type": "text", "font": "Open Sans", "fontSize": 22, "color": "#111"}, "encoding": {"x": {"datum": 28.2}, "y": {"datum": -7.3}, "text": {"value": "(e)"}}}
  ]},
  {"width": 233, "height": 166, "layer": [
   {"data": {"name": "b"}, "mark": {"type": "line", "color": "#c00000", "strokeWidth": 1.6, "clip": true},
    "encoding": {"x": {"field": "x", "type": "quantitative", "scale": {"domain": [1553.9, 1554.4], "nice": false, "zero": false}, "axis": {"values": [1553.9, 1554.15, 1554.4], "format": ".2f", "title": "Wavelength (nm)"}},
     "y": {"field": "y", "type": "quantitative", "scale": {"domain": [-60, 10], "nice": false, "zero": false}, "axis": {"values": [10, -10, -30, -50], "title": "Power (dBm)"}}}},
   {"data": {"values": [{}]}, "mark": {"type": "text", "font": "Open Sans", "fontSize": 22, "color": "#111"}, "encoding": {"x": {"datum": 1553.94}, "y": {"datum": -0.5}, "text": {"value": "(b)"}}}
  ]},
  {"width": 233, "height": 166, "resolve": {"axis": {"y": "independent"}}, "layer": [
   {"data": {"name": "f"}, "mark": {"type": "line", "color": "#194a8d", "strokeWidth": 2.8, "clip": true},
    "encoding": {"x": {"field": "x", "type": "quantitative", "scale": {"domain": [10, 30], "nice": false, "zero": false}, "axis": {"values": [10, 15, 20, 25, 30], "title": "Frequency (GHz)"}},
     "y": {"field": "y", "type": "quantitative", "scale": {"domain": [-70, 0], "nice": false, "zero": false}, "axis": {"values": [0, -20, -40, -60], "orient": "left", "title": "RF Response (dB)", "labelPadding": 12, "titlePadding": 14}}}},
   {"data": {"values": [{}]}, "mark": {"type": "text", "font": "Open Sans", "fontSize": 22, "color": "#111"}, "encoding": {"x": {"datum": 28.0}, "y": {"datum": -9.6, "axis": {"values": [-10, -30, -50, -70], "orient": "left", "title": null, "domain": false, "labelPadding": 12}}, "text": {"value": "(f)"}}}
  ]},
  {"width": 233, "height": 166, "layer": [
   {"data": {"name": "c"}, "mark": {"type": "line", "color": "#c00000", "strokeWidth": 1.6, "clip": true},
    "encoding": {"x": {"field": "x", "type": "quantitative", "scale": {"domain": [1553.9, 1554.4], "nice": false, "zero": false}, "axis": {"values": [1553.9, 1554.15, 1554.4], "format": ".2f", "title": "Wavelength (nm)"}},
     "y": {"field": "y", "type": "quantitative", "scale": {"domain": [-60, 10], "nice": false, "zero": false}, "axis": {"values": [10, -10, -30, -50], "title": "Power (dBm)"}}}},
   {"data": {"values": [{}]}, "mark": {"type": "text", "font": "Open Sans", "fontSize": 22, "color": "#111"}, "encoding": {"x": {"datum": 1553.94}, "y": {"datum": -0.9}, "text": {"value": "(c)"}}}
  ]},
  {"width": 233, "height": 166, "layer": [
   {"data": {"name": "g"}, "mark": {"type": "line", "color": "#194a8d", "strokeWidth": 2.8, "clip": true},
    "encoding": {"x": {"field": "x", "type": "quantitative", "scale": {"domain": [10, 30], "nice": false, "zero": false}, "axis": {"values": [10, 15, 20, 25, 30], "title": "Frequency (GHz)"}},
     "y": {"field": "y", "type": "quantitative", "scale": {"domain": [-45, 0], "nice": false, "zero": false}, "axis": {"values": [0, -10, -20, -30, -40], "title": "RF Response (dB)", "labelPadding": 12, "titlePadding": 14}}}},
   {"data": {"values": [{}]}, "mark": {"type": "text", "font": "Open Sans", "fontSize": 22, "color": "#111"}, "encoding": {"x": {"datum": 28.3}, "y": {"datum": -9.2}, "text": {"value": "(g)"}}}
  ]},
  {"width": 233, "height": 166, "layer": [
   {"data": {"name": "d"}, "mark": {"type": "line", "color": "#c00000", "strokeWidth": 1.6, "clip": true},
    "encoding": {"x": {"field": "x", "type": "quantitative", "scale": {"domain": [1553.9, 1554.4], "nice": false, "zero": false}, "axis": {"values": [1553.9, 1554.15, 1554.4], "format": ".2f", "title": "Wavelength (nm)"}},
     "y": {"field": "y", "type": "quantitative", "scale": {"domain": [-60, 10], "nice": false, "zero": false}, "axis": {"values": [10, -10, -30, -50], "title": "Power (dBm)"}}}},
   {"data": {"values": [{}]}, "mark": {"type": "text", "font": "Open Sans", "fontSize": 22, "color": "#111"}, "encoding": {"x": {"datum": 1553.947}, "y": {"datum": -0.1}, "text": {"value": "(d)"}}}
  ]},
  {"width": 233, "height": 166, "layer": [
   {"data": {"name": "h"}, "mark": {"type": "line", "color": "#194a8d", "strokeWidth": 2.8, "clip": true},
    "encoding": {"x": {"field": "x", "type": "quantitative", "scale": {"domain": [10, 30], "nice": false, "zero": false}, "axis": {"values": [10, 15, 20, 25, 30], "title": "Frequency (GHz)"}},
     "y": {"field": "y", "type": "quantitative", "scale": {"domain": [-45, 0], "nice": false, "zero": false}, "axis": {"values": [0, -10, -20, -30, -40], "title": "RF Response (dB)", "labelPadding": 12, "titlePadding": 14}}}},
   {"data": {"values": [{}]}, "mark": {"type": "text", "font": "Open Sans", "fontSize": 22, "color": "#111"}, "encoding": {"x": {"datum": 28.1}, "y": {"datum": -12.7}, "text": {"value": "(h)"}}}
  ]},
  {"width": 233, "height": 264, "view": {"stroke": null}, "layer": [
   {"data": {"values": [{}]}, "mark": {"type": "rule", "color": "#a6a6a6", "strokeWidth": 1},
    "encoding": {"x": {"datum": 1554.25, "type": "quantitative", "scale": {"domain": [1554.216552, 1554.4], "range": [0, 532], "nice": false, "zero": false}, "axis": {"values": [1554.25, 1554.3, 1554.35, 1554.4], "format": ".2f", "title": "TBF central wavelength (nm)", "domain": false, "labelFontSize": 23, "titleFontSize": 23, "tickSize": 5, "labelPadding": 17, "titlePadding": 9, "titleX": 314}},
     "x2": {"datum": 1554.4},
     "y": {"datum": 70, "type": "quantitative", "scale": {"domain": [0, 72.2], "nice": false, "zero": false}, "axis": {"values": [0, 20, 40, 60], "title": "Suppression ratio (dB)", "domain": false, "offset": -97, "labelFontSize": 24, "titleFontSize": 25, "tickSize": 5, "labelPadding": 14, "titlePadding": 12}}}},
   {"data": {"values": [{}]}, "mark": {"type": "rule", "color": "#868686", "strokeWidth": 1}, "encoding": {"x": {"datum": 1554.25}, "x2": {"datum": 1554.4}, "y": {"datum": 0}}},
   {"data": {"values": [{}]}, "mark": {"type": "rule", "color": "#a6a6a6", "strokeWidth": 1}, "encoding": {"x": {"datum": 1554.4}, "y": {"datum": 0}, "y2": {"datum": 70}}},
   {"data": {"values": [{}]}, "mark": {"type": "rule", "color": "#868686", "strokeWidth": 1}, "encoding": {"x": {"datum": 1554.25}, "y": {"datum": 0}, "y2": {"datum": 70}}},
   {"data": {"name": "isim"}, "mark": {"type": "line", "strokeWidth": 2.6, "clip": false},
    "encoding": {"x": {"field": "x", "type": "quantitative"}, "y": {"field": "y", "type": "quantitative"},
     "stroke": {"datum": "simulation", "type": "nominal", "scale": {"domain": ["simulation"], "range": ["#c00000"]}, "legend": {"orient": "none", "legendX": 354, "legendY": 1022, "title": null, "symbolType": "stroke", "symbolSize": 1369, "symbolStrokeWidth": 3.5, "labelFont": "Liberation Sans", "labelFontWeight": "bold", "labelFontSize": 20, "labelColor": "#000", "labelOffset": 13, "padding": 0}}}},
   {"data": {"name": "iexp"}, "mark": {"type": "point", "filled": true, "size": 75, "opacity": 1, "shape": "circle"},
    "encoding": {"x": {"field": "x", "type": "quantitative"}, "y": {"field": "y", "type": "quantitative"},
     "fill": {"datum": "experiment", "type": "nominal", "scale": {"domain": ["experiment"], "range": ["#0b0b73"]}, "legend": {"orient": "none", "legendX": 363, "legendY": 1060, "title": null, "symbolType": "circle", "symbolSize": 85, "labelFont": "Liberation Sans", "labelFontWeight": "bold", "labelFontSize": 20, "labelColor": "#000", "labelOffset": 24, "padding": 0}}}},
   {"data": {"values": [{}]}, "mark": {"type": "text", "font": "Open Sans", "fontSize": 21, "color": "#111"}, "encoding": {"x": {"datum": 1554.2593}, "y": {"datum": 63.7}, "text": {"value": "(i)"}}}
  ]}
]
}
